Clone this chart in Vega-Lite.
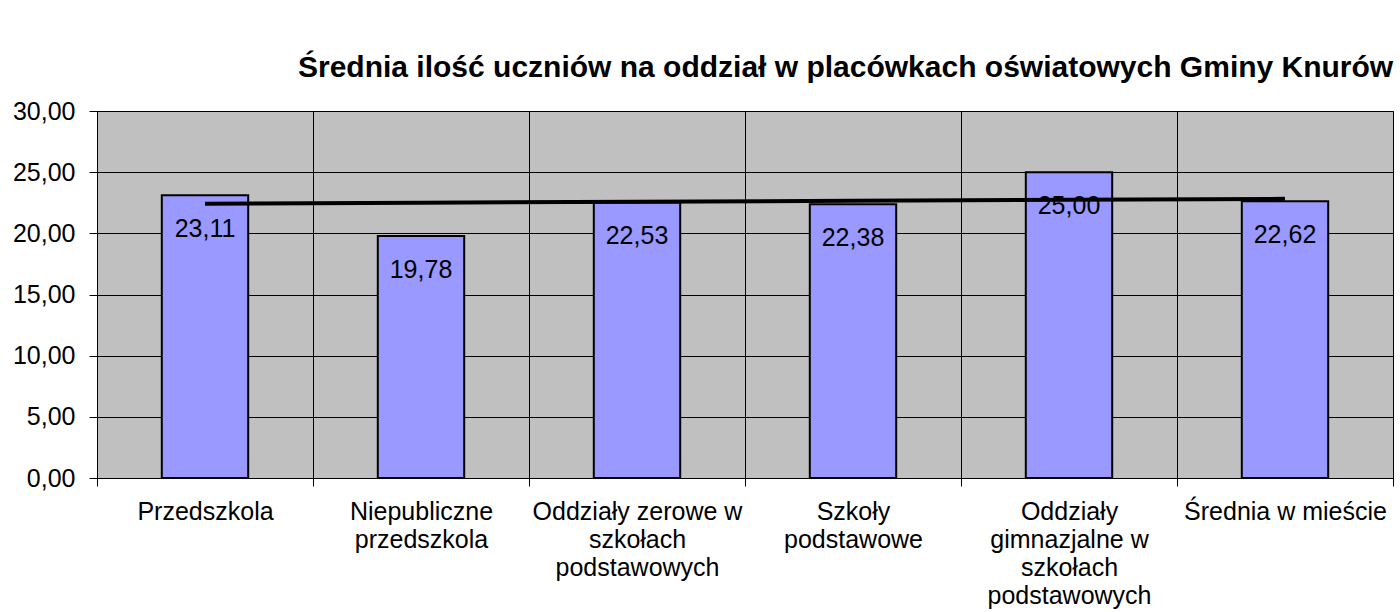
{
  "$schema": "https://vega.github.io/schema/vega-lite/v6.json",
  "width": 1296,
  "height": 367,
  "autosize": {"type": "none"},
  "padding": {"left": 97, "top": 111, "right": 7, "bottom": 134},
  "background": "white",
  "config": {
    "locale": {"number": {"decimal": ",", "thousands": " ", "grouping": [3], "currency": ["", " zł"]}},
    "font": "Liberation Sans",
    "view": {"fill": "#C0C0C0", "stroke": "#808080", "strokeWidth": 1}
  },
  "title": {
    "text": "Średnia ilość uczniów na oddział w placówkach oświatowych Gminy Knurów",
    "anchor": "start",
    "frame": "group",
    "dx": 201,
    "offset": 16,
    "font": "Liberation Sans",
    "fontSize": 30,
    "fontWeight": "bold",
    "color": "black"
  },
  "data": {
    "values": [
      {"kategoria": "Przedszkola", "srednia": 23.11, "trend": 22.42},
      {"kategoria": "Niepubliczne przedszkola", "srednia": 19.78, "trend": 22.50},
      {"kategoria": "Oddziały zerowe w szkołach podstawowych", "srednia": 22.53, "trend": 22.58},
      {"kategoria": "Szkoły podstawowe", "srednia": 22.38, "trend": 22.66},
      {"kategoria": "Oddziały gimnazjalne w szkołach podstawowych", "srednia": 25.00, "trend": 22.74},
      {"kategoria": "Średnia w mieście", "srednia": 22.62, "trend": 22.82}
    ]
  },
  "encoding": {
    "x": {
      "field": "kategoria",
      "type": "nominal",
      "sort": null,
      "scale": {"paddingInner": 0, "paddingOuter": 0},
      "axis": {
        "title": null,
        "labelAngle": 0,
        "tickBand": "extent",
        "grid": true,
        "gridColor": "black",
        "gridWidth": 1,
        "gridOpacity": 1,
        "domainColor": "black",
        "domainWidth": 1,
        "tickColor": "black",
        "tickSize": 8,
        "labelFont": "Liberation Sans",
        "labelFontSize": 25,
        "labelColor": "black",
        "labelPadding": 13,
        "labelLineHeight": 28,
        "labelBaseline": "top",
        "labelLimit": 0,
        "labelExpr": "datum.value == 'Niepubliczne przedszkola' ? ['Niepubliczne', 'przedszkola'] : datum.value == 'Oddziały zerowe w szkołach podstawowych' ? ['Oddziały zerowe w', 'szkołach', 'podstawowych'] : datum.value == 'Szkoły podstawowe' ? ['Szkoły', 'podstawowe'] : datum.value == 'Oddziały gimnazjalne w szkołach podstawowych' ? ['Oddziały', 'gimnazjalne w', 'szkołach', 'podstawowych'] : datum.value"
      }
    }
  },
  "layer": [
    {
      "mark": {"type": "bar", "width": {"band": 0.4}, "fill": "#9999FF", "stroke": "black", "strokeWidth": 2},
      "encoding": {
        "y": {
          "field": "srednia",
          "type": "quantitative",
          "scale": {"domain": [0, 30]},
          "axis": {
            "title": null,
            "values": [0, 5, 10, 15, 20, 25, 30],
            "format": ".2f",
            "grid": true,
            "gridColor": "black",
            "gridWidth": 1,
            "gridOpacity": 1,
            "domainColor": "black",
            "tickColor": "black",
            "tickSize": 8,
            "labelFont": "Liberation Sans",
            "labelFontSize": 25,
            "labelColor": "black",
            "labelPadding": 14
          }
        }
      }
    },
    {
      "mark": {"type": "text", "baseline": "middle", "dy": 34, "font": "Liberation Sans", "fontSize": 25, "color": "black"},
      "encoding": {
        "y": {"field": "srednia", "type": "quantitative"},
        "text": {"field": "srednia", "type": "quantitative", "format": ".2f"}
      }
    },
    {
      "mark": {"type": "line", "color": "black", "strokeWidth": 4},
      "encoding": {
        "y": {"field": "trend", "type": "quantitative"}
      }
    }
  ]
}
